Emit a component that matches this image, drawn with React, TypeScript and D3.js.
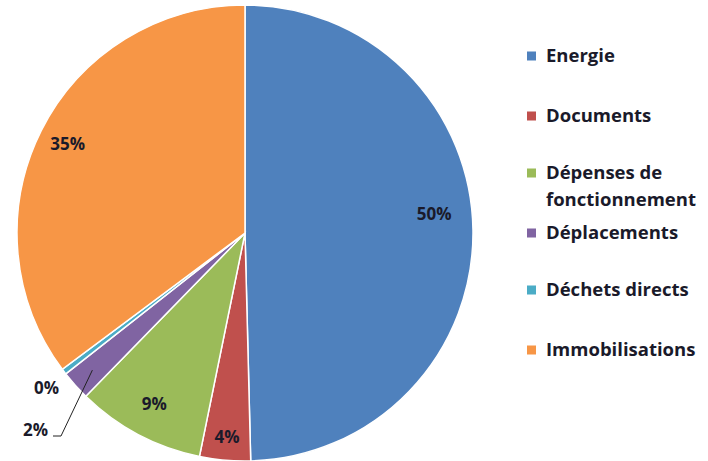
import React from "react";
import * as d3 from "d3";

const categories = ["Energie", "Documents", "Dépenses de fonctionnement", "Déplacements", "Déchets directs", "Immobilisations"];
const values = [49.6, 3.6, 9.1, 2.1, 0.4, 35.2];
const colors = ["#4f81bd", "#c0504d", "#9bbb59", "#8064a2", "#4bacc6", "#f79646"];
const legendLines = [["Energie"], ["Documents"], ["Dépenses de", "fonctionnement"], ["Déplacements"], ["Déchets directs"], ["Immobilisations"]];

const W = 708, H = 461;
const cx = 245, cy = 233, R = 228;
const font = "'Open Sans', Lato, sans-serif";

export default function App() {
  const pie = d3.pie<number>().sort(null).value((d) => d)(values);
  const arc = d3.arc<d3.PieArcDatum<number>>().innerRadius(0).outerRadius(R);
  const labelR = [0.83, 0.9, 0.85, 0, 0, 0.87];
  const legendY = [56, 116, 173, 233, 290, 350];
  return (
    <svg width={W} height={H} style={{ position: "absolute", left: 0, top: 0, background: "#fff" }}>
      <g transform={`translate(${cx},${cy})`}>
        {pie.map((p, i) => (
          <path key={i} d={arc(p) || ""} fill={colors[i]} stroke="#fff" strokeWidth={1.5} />
        ))}
        {pie.map((p, i) => {
          if (!labelR[i]) return null;
          const a = (p.startAngle + p.endAngle) / 2;
          const r = R * labelR[i];
          const x = r * Math.sin(a);
          const y = -r * Math.cos(a) - (i === 0 ? 17 : 0);
          return (
            <text key={i} x={x} y={y} dy="0.35em" textAnchor="middle" fontFamily={font} fontWeight="bold" fontSize={17} fill="#1a1a2a">
              {Math.round(values[i])}%
            </text>
          );
        })}
        {(() => {
          const p = pie[3];
          const a = (p.startAngle + p.endAngle) / 2;
          const r = R * 0.9;
          const x0 = r * Math.sin(a), y0 = -r * Math.cos(a);
          return (
            <g>
              <polyline points={`${x0},${y0} ${-184},${203} ${-192},${203}`} fill="none" stroke="#222" strokeWidth={1} />
              <text x={-197} y={197} dy="0.35em" textAnchor="end" fontFamily={font} fontWeight="bold" fontSize={17} fill="#1a1a2a">{Math.round(values[3])}%</text>
              <text x={-186} y={155} dy="0.35em" textAnchor="end" fontFamily={font} fontWeight="bold" fontSize={17} fill="#1a1a2a">{Math.round(values[4])}%</text>
            </g>
          );
        })()}
      </g>
      {categories.map((c, i) => (
        <g key={c}>
          <rect x={527} y={legendY[i] - 4.5} width={9} height={9} fill={colors[i]} />
          {legendLines[i].map((t, j) => (
            <text key={j} x={546} y={legendY[i] + j * 27} dy="0.35em" fontFamily={font} fontWeight="bold" fontSize={18.5} fill="#1a1a2a">{t}</text>
          ))}
        </g>
      ))}
    </svg>
  );
}
